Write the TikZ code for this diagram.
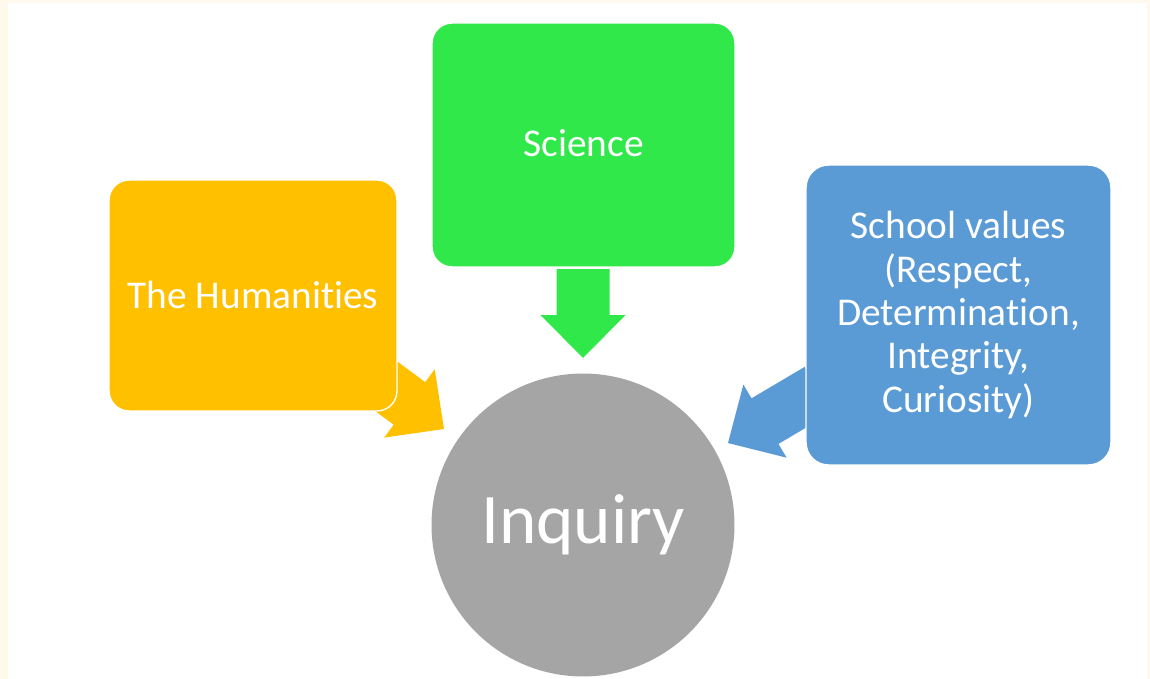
\documentclass[tikz,border=0pt]{standalone}
\usepackage{fontspec}
\setmainfont{Carlito}[Ligatures={NoCommon,NoRequired,NoContextual}]
\definecolor{cream}{HTML}{FFF9EC}
\definecolor{cgreen}{HTML}{31E84B}
\definecolor{corange}{HTML}{FFC000}
\definecolor{cblue}{HTML}{5B9BD5}
\definecolor{cgray}{HTML}{A5A5A5}
\tikzset{
  box/.style={rectangle, rounded corners=0.4cm, draw=white, line width=0.8pt, text=white, align=center, inner sep=0pt, font=\fontsize{22.4pt}{24.7pt}\selectfont},
  barrow/.pic={\fill[pic actions] (0,0) -- (-43,42.5) -- (-43,26.5) -- (-#1,26.5) -- (-#1,-26.5) -- (-43,-26.5) -- (-43,-42.5) -- cycle;}
}
\begin{document}
\begin{tikzpicture}[x=0.02cm,y=-0.02cm]
\useasboundingbox (0,0) rectangle (1150,679);
\fill[cream] (0,0) rectangle (1150,679);
\fill[white] (8,3) rectangle (1147,679);
% arrows (behind boxes)
\coordinate (tipS) at (583,358);
\coordinate (tipH) at (444,429);
\coordinate (tipV) at (728,443);
\pic[fill=cgreen, rotate=-90] at (tipS) {barrow=89};
\pic[fill=corange, rotate=-36.5] at (tipH) {barrow=115};
\pic[fill=cblue, rotate=210.6] at (tipV) {barrow=105};
% boxes
\node[box, fill=cgreen, minimum width=6.06cm, minimum height=4.88cm] (sci) at (583.5,145) {\raisebox{2.5pt}{Science}};
\node[box, fill=corange, minimum width=5.76cm, minimum height=4.62cm] (hum) at (253,295.5) {\raisebox{1pt}{The Humanities}};
\node[box, fill=cblue, minimum width=6.1cm, minimum height=6cm, rounded corners=0.45cm] (val) at (958.5,315) {School values\\(Respect,\\Determination,\\Integrity,\\Curiosity)};
\node[circle, fill=cgray, minimum size=6.06cm, inner sep=0pt, text=white, font=\fontsize{40.5pt}{44pt}\selectfont] (inq) at (583,525) {Inquiry};
\end{tikzpicture}
\end{document}
